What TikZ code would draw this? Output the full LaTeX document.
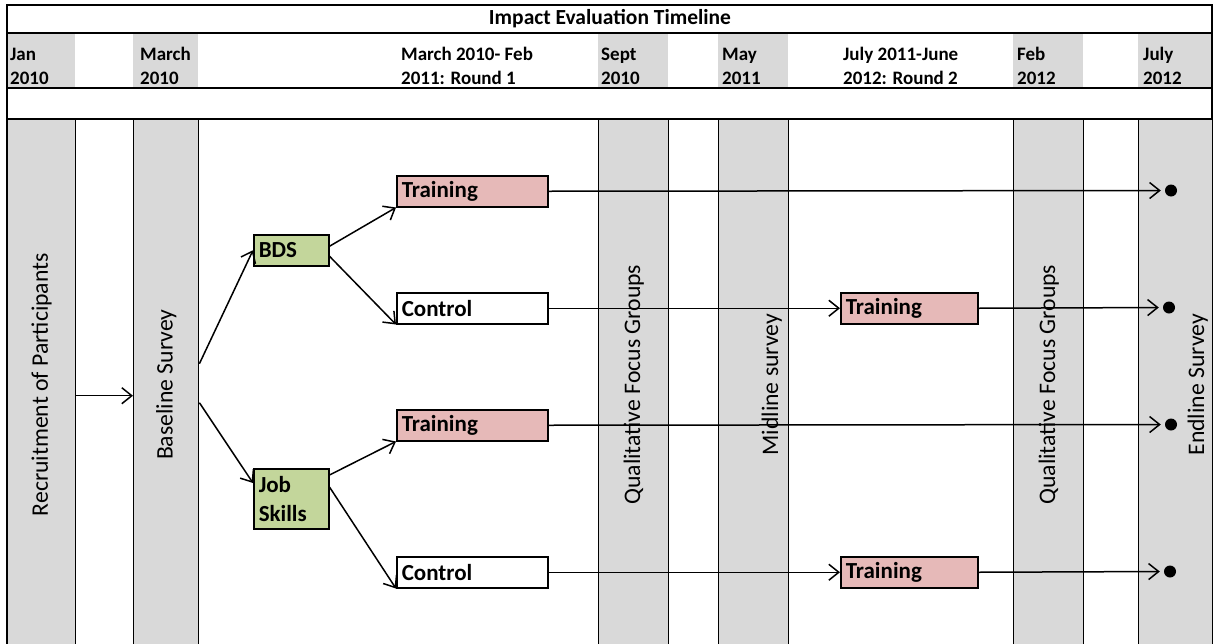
\documentclass[tikz,border=0pt]{standalone}
\usepackage{fontspec}
\setmainfont{Carlito}
\usetikzlibrary{arrows.meta}

\definecolor{gris}{HTML}{D9D9D9}
\definecolor{rosa}{HTML}{E6B9B8}
\definecolor{verde}{HTML}{C3D69B}

\tikzset{
  linea/.style={line width=1.4pt},
  flecha/.style={line width=1.5pt, -{Straight Barb[length=10pt,width=16pt,line width=1.5pt]}},
  columna/.style={draw, line width=1.4pt, fill=gris, anchor=north west, minimum height=528pt, inner sep=0pt},
  caja/.style={draw, line width=1.5pt, anchor=north west, minimum height=31pt, inner xsep=5pt, inner ysep=0pt, text width=141pt, align=left, font=\fontsize{23}{29}\selectfont\bfseries},
  etiqueta/.style={rotate=90, font=\fontsize{23.7}{27}\selectfont},
  fecha/.style={anchor=base west, align=left, inner sep=0pt, font=\fontsize{19}{24}\selectfont\bfseries},
  punto/.style={circle, fill, minimum size=12pt, inner sep=0pt},
}

\begin{document}
\begin{tikzpicture}[x=1pt,y=-1pt]
  \useasboundingbox (0,0) rectangle (1216,643);
  %fila de fechas
  \foreach \a/\b in {7/75,133/198,598/668,718/788,1013/1083,1138/1212}
    \fill[gris] (\a,33) rectangle (\b,88);
  %marco
  \draw[linea] (7,645) -- (7,5) -- (1212,5) -- (1212,645);
  \foreach \y in {33,88,119}
    \draw[linea] (7,\y) -- (1212,\y);

  \node[font=\fontsize{21.5}{24}\selectfont\bfseries] (titulo) at (610,19) {Impact Evaluation Timeline};

  %fechas
  \foreach \x/\uno/\dos [count=\i] in {10/Jan/2010, 140/March/2010, 401/March 2010- Feb/2011: Round 1,
      601/Sept/2010, 722/May/2011, 843/July 2011-June/2012: Round 2, 1017/Feb/2012, 1143/July/2012}
    \node[fecha] (fecha\i) at (\x,84) {\uno\\\dos};

  %columnas
  \node[columna, minimum width=68pt] (recl) at (7,119) {};
  \node[columna, minimum width=65pt] (basl) at (133,119) {};
  \node[columna, minimum width=70pt] (qual1) at (598,119) {};
  \node[columna, minimum width=70pt] (midl) at (718,119) {};
  \node[columna, minimum width=70pt] (qual2) at (1013,119) {};
  \node[columna, minimum width=74pt] (endl) at (1138,119) {};

  \node[etiqueta] (trecl) at ([yshift=-1pt]recl.center) {Recruitment of Participants};
  \node[etiqueta] (tbasl) at ([yshift=-1pt]basl.center) {Baseline Survey};
  \node[etiqueta] (tqual1) at ([yshift=-1pt]qual1.center) {Qualitative Focus Groups};
  \node[etiqueta] (tmidl) at ([xshift=18pt,yshift=-1pt]midl.center) {Midline survey};
  \node[etiqueta] (tqual2) at ([yshift=-1pt]qual2.center) {Qualitative Focus Groups};
  \node[etiqueta] (tendl) at ([xshift=22pt,yshift=-1pt]endl.center) {Endline Survey};

  %cajas
  \node[caja, fill=verde, text width=65pt] (bds) at (253,234) {BDS};
  \node[caja, fill=verde, text width=65pt, minimum height=60pt] (job) at (253,468) {Job\\Skills};
  \node[caja, fill=rosa] (tr1) at (396,175) {Training};
  \node[caja, fill=white] (ctl1) at (396,292) {Control};
  \node[caja, fill=rosa] (tr2) at (396,409) {Training};
  \node[caja, fill=white] (ctl2) at (396,556) {Control};
  \node[caja, fill=rosa, text width=127pt] (trb1) at (840,292) {Training};
  \node[caja, fill=rosa, text width=127pt] (trb2) at (840,556) {Training};

  %puntos finales
  \node[punto] (p1) at (1171,190.5) {};
  \node[punto] (p2) at (1169,307.5) {};
  \node[punto] (p3) at (1171,424.5) {};
  \node[punto] (p4) at (1170,571.5) {};

  %flechas
  \draw[flecha] ([yshift=-12pt]recl.east) -- ([yshift=-12pt]basl.west);
  \draw[flecha] ([yshift=20pt]basl.east) -- (bds.west);
  \draw[flecha] ([yshift=-19pt]basl.east) -- ([yshift=-15pt]job.north west);
  \draw[flecha] ([yshift=4pt]bds.east) -- (tr1.south west);
  \draw[flecha] ([yshift=-6pt]bds.east) -- (ctl1.south west);
  \draw[flecha] ([yshift=-7pt]job.north east) -- (tr2.south west);
  \draw[flecha] ([yshift=-19pt]job.north east) -- (ctl2.south west);

  \draw[flecha, shorten >=4pt] (tr1.east) -- (p1.west);
  \draw[flecha] (ctl1.east) -- (trb1.west);
  \draw[flecha, shorten >=4pt] (trb1.east) -- (p2.west);
  \draw[flecha, shorten >=4pt] (tr2.east) -- (p3.west);
  \draw[flecha] (ctl2.east) -- (trb2.west);
  \draw[flecha, shorten >=4pt] (trb2.east) -- (p4.west);
\end{tikzpicture}
\end{document}
